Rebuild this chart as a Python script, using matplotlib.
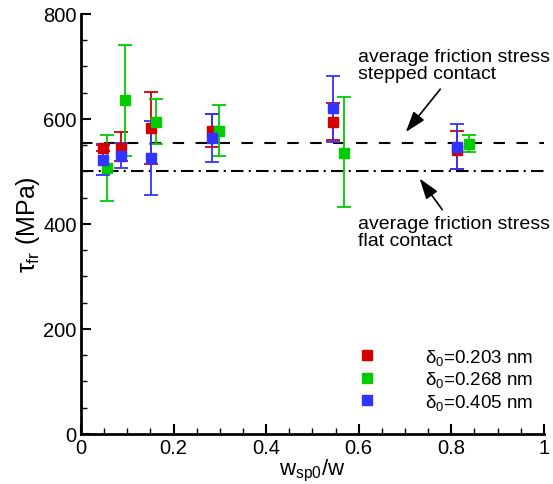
import matplotlib
matplotlib.use("Agg")
import matplotlib.pyplot as plt
from matplotlib.ticker import MultipleLocator

plt.rcParams['font.family'] = ['Liberation Sans', 'DejaVu Sans']
plt.rcParams['mathtext.fontset'] = 'custom'
plt.rcParams['mathtext.rm'] = 'Liberation Sans'
plt.rcParams['mathtext.it'] = 'Liberation Sans'

# --- data ---
labels = [r'$\delta_0$=0.203 nm', r'$\delta_0$=0.268 nm', r'$\delta_0$=0.405 nm']
colors = ['#d40000', '#00cc00', '#3333ff']

x_red = [0.048, 0.086, 0.152, 0.283, 0.545, 0.813]
y_red = [544, 545, 583, 578, 594, 541]
lo_red = [539, 520, 514, 546, 560, 505]
hi_red = [551, 575, 652, 609, 631, 578]

x_green = [0.057, 0.095, 0.163, 0.298, 0.569, 0.839]
y_green = [507, 636, 594, 577, 535, 553]
lo_green = [443, 530, 552, 529, 432, 537]
hi_green = [570, 741, 638, 627, 641, 569]

x_blue = [0.048, 0.086, 0.152, 0.283, 0.545, 0.813]
y_blue = [522, 530, 526, 564, 620, 546]
lo_blue = [493, 506, 456, 519, 556, 504]
hi_blue = [553, 554, 596, 609, 681, 591]

avg_stepped = 555
avg_flat = 500

series = [
    (x_red, y_red, lo_red, hi_red),
    (x_green, y_green, lo_green, hi_green),
    (x_blue, y_blue, lo_blue, hi_blue),
]

fig = plt.figure(figsize=(5.53, 4.85), dpi=100)
ax = fig.add_axes([0.1465, 0.1031, 0.837, 0.866])

ax.axhline(avg_stepped, color='black', lw=1.5, linestyle=(0, (5.5, 5.5)), zorder=1)
ax.axhline(avg_flat, color='black', lw=1.5, linestyle=(0, (6, 2.5, 1, 2.5)), zorder=1)

for (xs, ys, lo, hi), c, lab in zip(series, colors, labels):
    err = [[y - l for y, l in zip(ys, lo)], [h - y for y, h in zip(ys, hi)]]
    ax.errorbar(xs, ys, yerr=err, fmt='none', ecolor=c, elinewidth=1.3,
                capsize=5, capthick=1.3, zorder=2)
    ax.plot(xs, ys, 's', color=c, markersize=6.5, linestyle='none',
            label=lab, zorder=3)

ax.text(0.598, 703, 'average friction stress\nstepped contact', fontsize=14,
        va='center', ha='left', linespacing=1.05, clip_on=False)
ax.annotate('', xy=(0.698, 571), xytext=(0.780, 661),
            arrowprops=dict(arrowstyle='-|>,head_width=0.3,head_length=0.9',
                            color='black', lw=1.2, mutation_scale=14))
ax.text(0.598, 385, 'average friction stress\nflat contact', fontsize=14,
        va='center', ha='left', linespacing=1.05, clip_on=False)
ax.annotate('', xy=(0.728, 491), xytext=(0.784, 423),
            arrowprops=dict(arrowstyle='-|>,head_width=0.3,head_length=0.9',
                            color='black', lw=1.2, mutation_scale=14))

ax.set_xlim(0, 1)
ax.set_ylim(0, 800)
ax.xaxis.set_major_locator(MultipleLocator(0.2))
ax.xaxis.set_minor_locator(MultipleLocator(0.05))
ax.yaxis.set_major_locator(MultipleLocator(200))
ax.yaxis.set_minor_locator(MultipleLocator(50))
ax.set_xticks([0, 0.2, 0.4, 0.6, 0.8, 1.0])
ax.set_xticklabels(['0', '0.2', '0.4', '0.6', '0.8', '1'])
ax.tick_params(which='both', direction='in', labelsize=14.5, width=1.5)
ax.tick_params(which='major', length=7, pad=3)
ax.tick_params(which='minor', length=4, width=1)
for side in ['top', 'right']:
    ax.spines[side].set_visible(False)
for side in ['left', 'bottom']:
    ax.spines[side].set_linewidth(2)

ax.set_xlabel(r'w$_{\rm sp0}$/w', fontsize=16, labelpad=0)
ax.set_ylabel(r'$\tau_{\rm fr}$ (MPa)', fontsize=18, labelpad=1)

ax.legend(loc='upper left', bbox_to_anchor=(0.582, 0.226), frameon=False,
          fontsize=13.5, handlelength=1, handletextpad=2.6, labelspacing=0.14,
          borderaxespad=0, markerscale=1)

fig.savefig('out.png', dpi=100)
